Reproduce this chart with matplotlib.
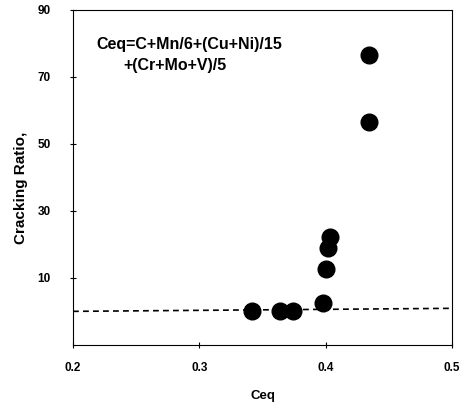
import matplotlib.pyplot as plt

plt.rcParams['font.family'] = ['Liberation Sans', 'DejaVu Sans']

# data
ceq = [0.342, 0.364, 0.374, 0.398, 0.400, 0.402, 0.403, 0.434, 0.434]
ratio = [0.0, 0.0, 0.0, 2.5, 12.5, 19.0, 22.2, 56.5, 76.5]
base_x = [0.2, 0.5]
base_y = [0.0, 0.9]
xticks = [0.2, 0.3, 0.4, 0.5]
yticks = [10, 30, 50, 70, 90]

fig = plt.figure(figsize=(4.68, 4.12), dpi=100)
ax = fig.add_axes([0.156, 0.163, 0.81, 0.813])

ax.plot(base_x, base_y, 'k--', lw=1.2, dashes=(3.5, 2.5))
ax.plot(ceq, ratio, 'o', color='black', markersize=12)

ax.set_xlim(0.2, 0.5)
ax.set_ylim(-10, 90)
ax.set_xticks(xticks)
ax.set_xticklabels(['0.2', '0.3', '0.4', '0.5'])
ax.set_yticks(yticks)
ax.tick_params(direction='inout', length=4, width=0.8, labelsize=8.5)
for lab in ax.get_xticklabels() + ax.get_yticklabels():
    lab.set_fontweight('bold')
ax.tick_params(axis='x', pad=10)
ax.tick_params(axis='y', pad=14)

ax.set_xlabel('Ceq', fontsize=9.5, fontweight='bold', labelpad=12)
ax.set_ylabel('Cracking Ratio,', fontsize=11, fontweight='bold')
ax.yaxis.set_label_coords(-0.118, 0.47)

ax.text(0.2185, 79.8, 'Ceq=C+Mn/6+(Cu+Ni)/15', fontsize=11.5, fontweight='bold', va='center')
ax.text(0.2395, 73.4, '+(Cr+Mo+V)/5', fontsize=11.5, fontweight='bold', va='center')

fig.savefig('out.png', dpi=100)
